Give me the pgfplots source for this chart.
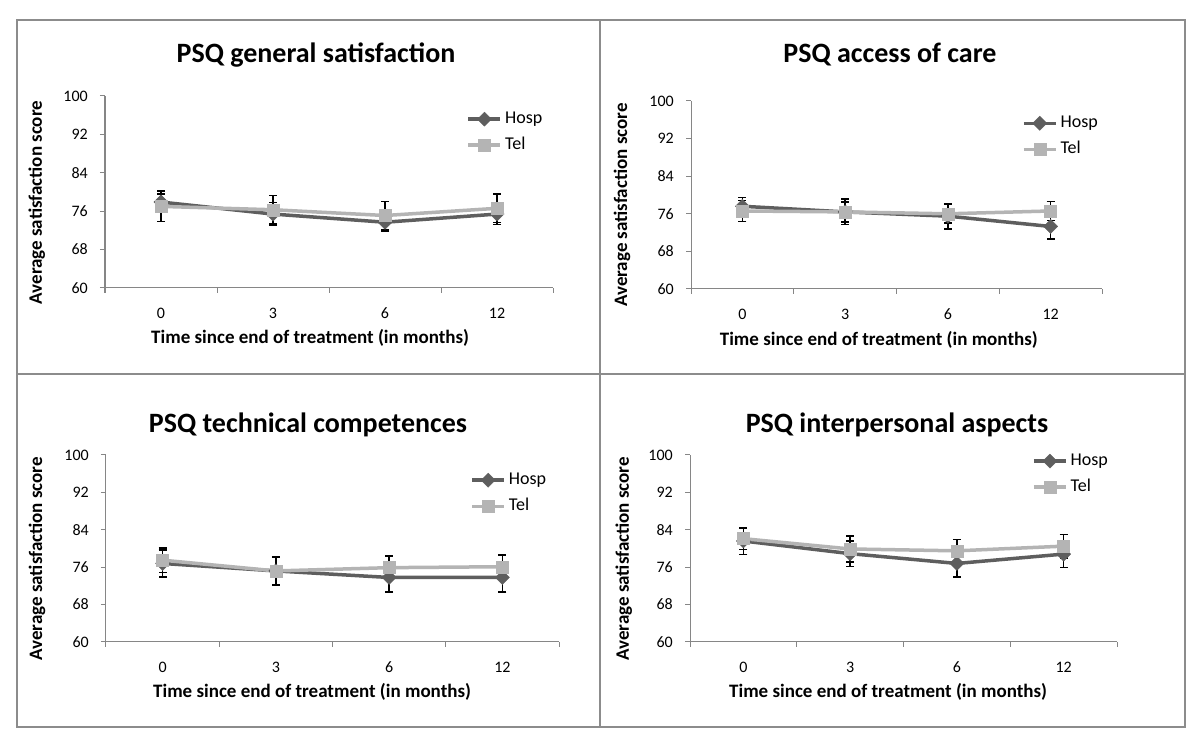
\documentclass[border=0pt]{standalone}
\usepackage{fontspec}
\setmainfont{Carlito}
\usepackage{pgfplots}
\pgfplotsset{compat=1.18}
\usepackage{pgfplotstable}
\definecolor{hosp}{HTML}{5E5E5E}
\definecolor{tel}{HTML}{B4B4B4}
\definecolor{axisgray}{HTML}{868686}
\definecolor{framegray}{HTML}{8C8C8C}

\pgfplotstableread{
x   h    he   t    te
0.5 77.9 1.7 77.0 3.2
1.5 75.4 2.4 76.3 3.0
2.5 73.7 1.8 75.1 2.9
3.5 75.4 2.2 76.6 3.0
}\genT
\pgfplotstableread{
x   h    he   t    te
0.5 77.6 1.9 76.6 2.2
1.5 76.4 2.7 76.4 2.1
2.5 75.5 2.7 76.0 2.0
3.5 73.3 2.7 76.6 2.0
}\accT
\pgfplotstableread{
x   h    he   t    te
0.5 76.8 2.9 77.5 2.6
1.5 75.2 3.1 75.2 2.9
2.5 73.8 3.1 75.9 2.5
3.5 73.8 3.1 76.1 2.5
}\tecT
\pgfplotstableread{
x   h    he   t    te
0.5 81.6 2.9 82.1 2.3
1.5 78.9 2.7 79.9 2.8
2.5 76.8 2.9 79.5 2.4
3.5 78.8 2.9 80.5 2.5
}\intT

\pgfplotsset{
  panel/.style={
    scale only axis, anchor=south west,
    xmin=0, xmax=4, ymin=60, ymax=100,
    axis x line=bottom, axis y line=left,
    axis line style={-, draw=axisgray, line width=1pt},
    tick align=outside,
    major tick length=5pt,
    tick style={draw=axisgray, line width=1pt},
    xtick={0,1,2,3,4}, xticklabels={},
    extra x ticks={0.5,1.5,2.5,3.5},
    extra x tick labels={0,3,6,12},
    extra x tick style={major tick length=0pt},
    ytick={60,68,76,84,92,100},
    tick label style={font=\fontsize{16}{19}\selectfont, text=black},
    /pgf/number format/assume math mode=true,
    yticklabel style={inner sep=0pt, xshift=-12pt},
    xticklabel style={inner sep=0pt, yshift=-20pt, anchor=north, text height=10pt, text depth=0pt},
    xlabel={Time since end of treatment (in months)},
    ylabel={Average satisfaction score},
    label style={font=\bfseries\fontsize{19}{22}\selectfont, anchor=center},
    clip=false,
    legend style={draw=none, fill=none, inner sep=0pt, anchor=north west,
      font=\fontsize{18}{21}\selectfont, row sep=9pt, column sep=3pt,
      nodes={inner sep=0pt, text height=12.6pt, text depth=4.5pt}},
    legend cell align=left,
    legend image code/.code={\draw[mark repeat=2,mark phase=2,##1] plot coordinates {(0pt,0pt) (16pt,0pt) (32pt,0pt)};},
  },
  hospstyle/.style={hosp, line width=3.5pt, mark=square*, mark size=5pt,
    mark options={rotate=45, line width=0.4pt, solid},
    error bars/.cd, y dir=both, y explicit,
    error bar style={black, line width=1.5pt},
    error mark options={black, line width=1.5pt, mark size=4pt, rotate=90}},
  telstyle/.style={tel, line width=3.5pt, mark=square*, mark size=6pt,
    mark options={line width=0.4pt, solid},
    error bars/.cd, y dir=both, y explicit,
    error bar style={black, line width=1.5pt},
    error mark options={black, line width=1.5pt, mark size=4pt, rotate=90}},
}

\begin{document}
\begin{tikzpicture}[x=1pt,y=1pt]
\useasboundingbox (0,0) rectangle (1200,743);
\fill[white] (0,0) rectangle (1200,743);
\draw[framegray, line width=1.5pt] (17,16) rectangle (1185,723);
\draw[framegray, line width=1.8pt] (600,16) -- (600,723);
\draw[framegray, line width=1.8pt] (17,369) -- (1185,369);
\coordinate (A1) at (105,455);
\coordinate (A2) at (691,454);
\coordinate (A3) at (106,101);
\coordinate (A4) at (690,101);

\begin{axis}[panel, at={(A1)}, width=448pt, height=192pt,
  xlabel style={at={(axis description cs:0.458,-0.26)}},
  ylabel style={at={(axis description cs:-0.152,0.445)}},
  legend style={at={(0.807,0.925)}}]
\addplot[hospstyle] table[x=x, y=h, y error=he] {\genT};
\addplot[telstyle] table[x=x, y=t, y error=te] {\genT};
\legend{Hosp,Tel}
\end{axis}

\begin{axis}[panel, at={(A2)}, width=411pt, height=188pt,
  xlabel style={at={(axis description cs:0.457,-0.271)}},
  ylabel style={at={(axis description cs:-0.168,0.447)}},
  legend style={at={(0.805,0.928)}}]
\addplot[hospstyle] table[x=x, y=h, y error=he] {\accT};
\addplot[telstyle] table[x=x, y=t, y error=te] {\accT};
\legend{Hosp,Tel}
\end{axis}

\begin{axis}[panel, at={(A3)}, width=453pt, height=187pt,
  xlabel style={at={(axis description cs:0.455,-0.267)}},
  ylabel style={at={(axis description cs:-0.152,0.445)}},
  legend style={at={(0.804,0.912)}}]
\addplot[hospstyle] table[x=x, y=h, y error=he] {\tecT};
\addplot[telstyle] table[x=x, y=t, y error=te] {\tecT};
\legend{Hosp,Tel}
\end{axis}

\begin{axis}[panel, at={(A4)}, width=427pt, height=187pt,
  xlabel style={at={(axis description cs:0.464,-0.267)}},
  ylabel style={at={(axis description cs:-0.155,0.445)}},
  legend style={at={(0.801,1.014)}}]
\addplot[hospstyle] table[x=x, y=h, y error=he] {\intT};
\addplot[telstyle] table[x=x, y=t, y error=te] {\intT};
\legend{Hosp,Tel}
\end{axis}

\node[font=\bfseries\fontsize{28}{32}\selectfont] at (316,688) {PSQ general satisfaction};
\node[font=\bfseries\fontsize{28}{32}\selectfont] at (890,688) {PSQ access of care};
\node[font=\bfseries\fontsize{28}{32}\selectfont] at (308,318) {PSQ technical competences};
\node[font=\bfseries\fontsize{28}{32}\selectfont] at (897,318) {PSQ interpersonal aspects};
\end{tikzpicture}
\end{document}
